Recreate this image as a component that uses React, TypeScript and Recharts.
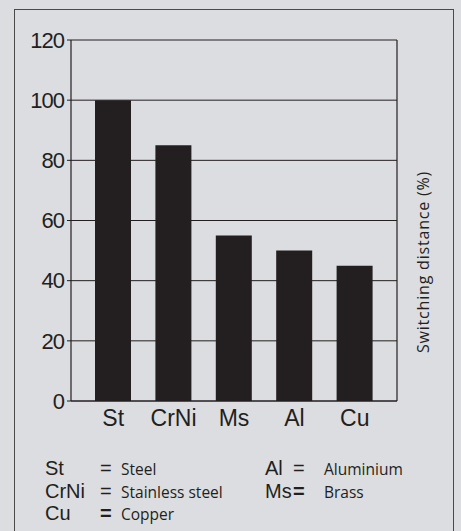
import { Bar, BarChart, CartesianGrid, XAxis, YAxis } from "recharts";

const metals = ["St", "CrNi", "Ms", "Al", "Cu"];
const distance = [100, 85, 55, 50, 45];
const yTicks = [0, 20, 40, 60, 80, 100, 120];
const yTitle = "Switching distance (%)";

const legendLeft = [
  { abbr: "St", name: "Steel" },
  { abbr: "CrNi", name: "Stainless steel" },
  { abbr: "Cu", name: "Copper" },
];
const legendRight = [
  { abbr: "Al", name: "Aluminium" },
  { abbr: "Ms", name: "Brass" },
];

const data = metals.map((m, i) => ({ name: m, value: distance[i] }));

const bg = "#dcdde0";
const ink = "#231f20";
const sans = "'Liberation Sans', Arial, sans-serif";
const light = "'Open Sans', 'Noto Sans', sans-serif";

export default function App() {
  return (
    <div style={{ position: "absolute", left: 0, top: 0, width: 461, height: 531, background: bg, overflow: "hidden" }}>
      <div style={{ position: "absolute", left: 14, top: 9, width: 438, height: 600, border: "1.5px solid #4a4a4a" }} />
      <BarChart
        width={461}
        height={531}
        data={data}
        margin={{ top: 40, right: 0, left: 11, bottom: 100 }}
        style={{ position: "absolute", left: 0, top: 0 }}
      >
        <CartesianGrid horizontal vertical={false} stroke={ink} strokeWidth={1} />
        <XAxis
          dataKey="name"
          height={30}
          padding={{ left: 12, right: 12 }}
          axisLine={{ stroke: ink, strokeWidth: 1.2 }}
          tickLine={false}
          tickSize={0}
          tickMargin={9}
          tick={{ fill: ink, fontSize: 23, fontFamily: sans }}
        />
        <YAxis
          width={60}
          domain={[0, 120]}
          ticks={yTicks}
          axisLine={{ stroke: ink, strokeWidth: 1.2 }}
          tickLine={{ stroke: ink }}
          tickSize={4}
          tickMargin={3}
          tick={{ fill: ink, fontSize: 22, fontFamily: sans, letterSpacing: -1 }}
        />
        <YAxis
          yAxisId="right"
          orientation="right"
          width={64}
          domain={[0, 120]}
          ticks={yTicks}
          tick={false}
          tickLine={false}
          axisLine={{ stroke: ink, strokeWidth: 1.2 }}
        />
        <Bar dataKey="value" fill={ink} barSize={36} isAnimationActive={false} />
      </BarChart>
      <svg width={461} height={531} style={{ position: "absolute", left: 0, top: 0 }}>
        <text
          x={0}
          y={0}
          transform="translate(429 262) rotate(-90)"
          textAnchor="middle"
          fill={ink}
          fontSize={16}
          fontFamily={light}
          letterSpacing={0.8}
        >
          {yTitle}
        </text>
        {legendLeft.map((d, i) => (
          <g key={d.abbr} fill={ink}>
            <text x={45} y={475 + i * 22.5} fontSize={20} fontFamily={sans}>{d.abbr}</text>
            <text x={100} y={475 + i * 22.5} fontSize={20} fontFamily={sans} fontWeight={d.abbr === "Cu" ? "bold" : "normal"}>=</text>
            <text x={121} y={475 + i * 22.5} fontSize={15.5} fontFamily={light}>{d.name}</text>
          </g>
        ))}
        {legendRight.map((d, i) => (
          <g key={d.abbr} fill={ink}>
            <text x={265} y={475 + i * 22.5} fontSize={20} fontFamily={sans}>{d.abbr}</text>
            <text x={293} y={475 + i * 22.5} fontSize={20} fontFamily={sans} fontWeight={d.abbr === "Ms" ? "bold" : "normal"}>=</text>
            <text x={324} y={475 + i * 22.5} fontSize={15.5} fontFamily={light}>{d.name}</text>
          </g>
        ))}
      </svg>
    </div>
  );
}
